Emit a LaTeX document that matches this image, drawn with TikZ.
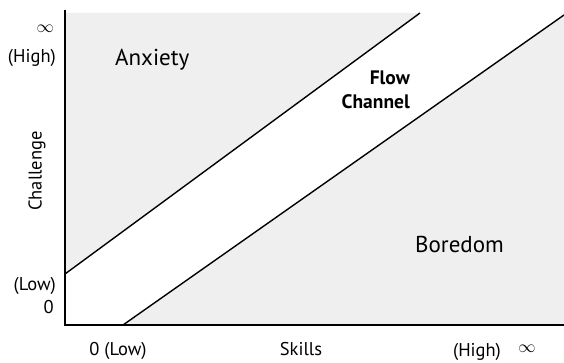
\documentclass[tikz,border=0pt]{standalone}
\usepackage{fontspec}
\setmainfont{PT Sans}
\definecolor{zonegray}{RGB}{239,239,239}
\begin{document}
\begin{tikzpicture}[x=1pt,y=-1pt,
  lbl/.style={inner sep=0pt,font=\fontsize{18.5}{22}\selectfont},
  zone/.style={inner sep=0pt,font=\fontsize{23}{26}\selectfont},
  flowtxt/.style={inner sep=0pt,font=\bfseries\fontsize{19.5}{24}\selectfont},
  inf/.style={inner sep=0pt,font=\fontsize{19}{20}\selectfont},
  axis/.style={line width=2.6pt},
  bound/.style={line width=1.4pt}]
\useasboundingbox (0,0) rectangle (564,363);
% corner coordinates
\coordinate (top) at (65,10);
\coordinate (origin) at (65,325);
\coordinate (right) at (564,325);
\coordinate (aS) at (65,274);
\coordinate (aE) at (420,13);
\coordinate (bS) at (123,325);
\coordinate (bE) at (564,15);
\coordinate (gTL) at (65,13);
% shaded zones
\fill[zonegray] (gTL) -- (aE) -- (aS) -- cycle;
\fill[zonegray] (bS) -- (bE) -- (right) -- cycle;
% boundary lines
\draw[bound] (aS) -- (aE);
\draw[bound] (bS) -- (bE);
% axes
\draw[axis] (top) -- (origin.center) -- (right);
% labels
\node[inf, anchor=east] (yinf) at (54,29) {$\infty$};
\node[lbl, anchor=base east] (yhigh) at (56,63) {(High)};
\node[lbl, anchor=base east] (ylow) at (56,290) {(Low)};
\node[lbl, anchor=base east] (yzero) at (54,313) {0};
\node[lbl, rotate=90] (ylab) at (37,171) {Challenge};
\node[lbl, anchor=base] (xlow) at (118,355) {0 (Low)};
\node[lbl, anchor=base] (xlab) at (301,355) {Skills};
\node[lbl, anchor=base] (xhigh) at (477,356) {(High)};
\node[inf] (xinf) at (527,349) {$\infty$};
\node[zone, anchor=base west] (anx) at (115,66) {Anxiety};
\node[zone, anchor=base west] (bor) at (415,252) {Boredom};
\node[flowtxt, anchor=base east] (flow) at (410,85) {Flow};
\node[flowtxt, anchor=base east] (chan) at (410,109) {Channel};
\end{tikzpicture}
\end{document}
